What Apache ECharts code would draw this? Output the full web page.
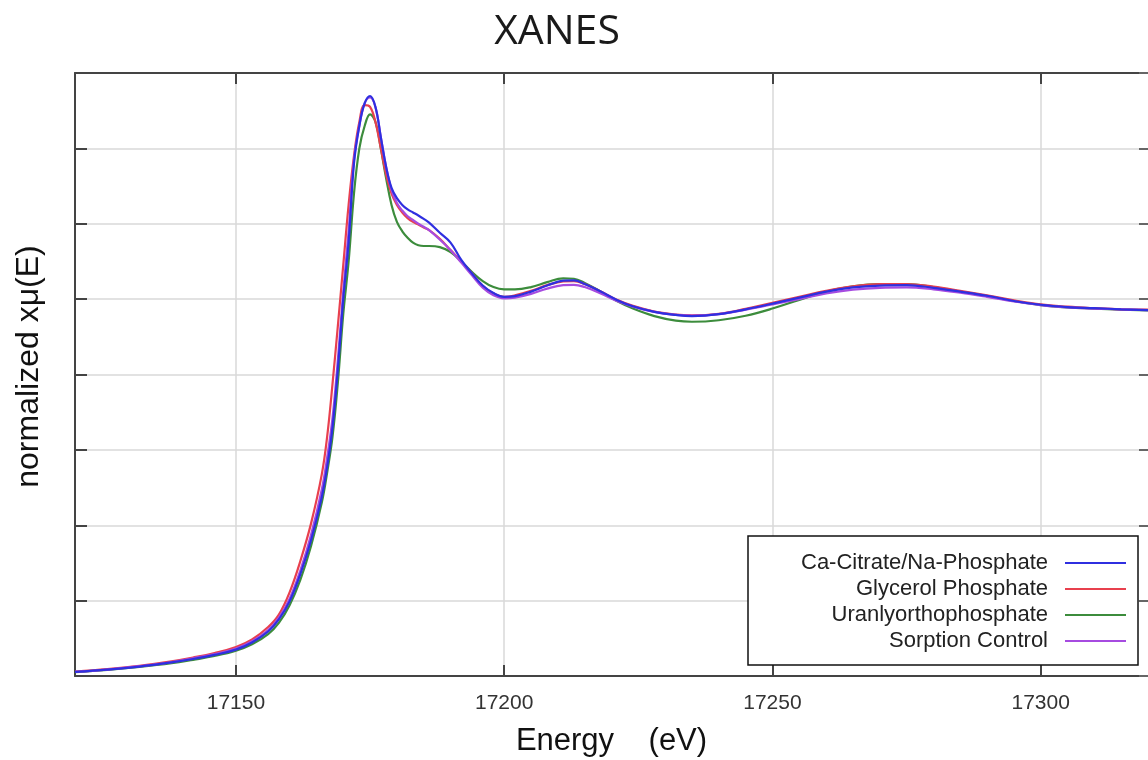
<!DOCTYPE html>
<html>
<head>
<meta charset="utf-8">
<script src="https://cdn.jsdelivr.net/npm/echarts@6/dist/echarts.min.js"></script>
<style>
  html, body { margin: 0; padding: 0; background: #ffffff; }
  #chart { width: 1148px; height: 760px; }
</style>
</head>
<body>
<div id="chart"></div>
<script>
// Photon energy grid (eV) shared by all spectra
const energy = [
  17120, 17126, 17132, 17138, 17142, 17146, 17150, 17153, 17156, 17158,
  17160, 17162, 17164, 17166, 17167, 17168, 17169, 17170, 17171, 17172,
  17173, 17174, 17175, 17176, 17177, 17178, 17179, 17180, 17181, 17182,
  17183, 17184, 17185, 17186, 17188, 17190, 17192, 17194, 17196, 17198,
  17200, 17202, 17205, 17208, 17211, 17213, 17215, 17218, 17221, 17224,
  17228, 17232, 17235, 17240, 17245, 17250, 17255, 17260, 17265, 17270,
  17275, 17280, 17285, 17290, 17295, 17300, 17305, 17310, 17315, 17320
];

// Normalized absorption for each sample
const caCitrate = [
  0.011, 0.017, 0.025, 0.036, 0.045, 0.056, 0.070, 0.089, 0.118, 0.150,
  0.198, 0.270, 0.360, 0.475, 0.555, 0.660, 0.815, 1.000, 1.150, 1.360,
  1.460, 1.520, 1.539, 1.510, 1.430, 1.350, 1.295, 1.268, 1.250, 1.238,
  1.230, 1.222, 1.213, 1.203, 1.176, 1.150, 1.104, 1.068, 1.036, 1.016,
  1.006, 1.008, 1.020, 1.036, 1.049, 1.050, 1.040, 1.020, 0.998, 0.981,
  0.966, 0.958, 0.955, 0.960, 0.973, 0.988, 1.004, 1.020, 1.031, 1.036,
  1.037, 1.030, 1.020, 1.009, 0.995, 0.985, 0.979, 0.976, 0.973, 0.971
];
const glycerol = [
  0.012, 0.018, 0.027, 0.039, 0.049, 0.061, 0.077, 0.097, 0.130, 0.163,
  0.222, 0.305, 0.405, 0.535, 0.635, 0.775, 0.930, 1.090, 1.250, 1.380,
  1.470, 1.515, 1.510, 1.470, 1.400, 1.330, 1.280, 1.250, 1.230, 1.215,
  1.205, 1.198, 1.190, 1.183, 1.160, 1.130, 1.100, 1.068, 1.035, 1.015,
  1.006, 1.010, 1.022, 1.037, 1.047, 1.048, 1.040, 1.020, 0.998, 0.982,
  0.967, 0.959, 0.957, 0.961, 0.974, 0.990, 1.006, 1.022, 1.034, 1.040,
  1.040, 1.033, 1.022, 1.010, 0.997, 0.986, 0.980, 0.976, 0.973, 0.972
];
const uranylPhosphate = [
  0.010, 0.016, 0.024, 0.034, 0.043, 0.053, 0.067, 0.084, 0.111, 0.141,
  0.188, 0.255, 0.345, 0.460, 0.540, 0.635, 0.780, 0.960, 1.100, 1.280,
  1.400, 1.460, 1.490, 1.470, 1.400, 1.320, 1.250, 1.205, 1.180, 1.163,
  1.150, 1.143, 1.141, 1.141, 1.138, 1.125, 1.100, 1.072, 1.048, 1.032,
  1.026, 1.026, 1.032, 1.045, 1.055, 1.054, 1.043, 1.020, 0.995, 0.975,
  0.955, 0.943, 0.940, 0.944, 0.956, 0.975, 0.998, 1.020, 1.034, 1.040,
  1.040, 1.032, 1.020, 1.008, 0.995, 0.984, 0.978, 0.975, 0.972, 0.970
];
const sorptionControl = [
  0.011, 0.017, 0.026, 0.037, 0.047, 0.058, 0.073, 0.092, 0.122, 0.155,
  0.205, 0.280, 0.375, 0.495, 0.580, 0.685, 0.840, 1.020, 1.180, 1.370,
  1.460, 1.520, 1.535, 1.510, 1.430, 1.350, 1.290, 1.255, 1.235, 1.220,
  1.210, 1.200, 1.192, 1.183, 1.158, 1.130, 1.097, 1.063, 1.030, 1.010,
  1.002, 1.004, 1.014, 1.028, 1.037, 1.038, 1.032, 1.015, 0.995, 0.980,
  0.966, 0.958, 0.956, 0.960, 0.972, 0.986, 1.000, 1.015, 1.025, 1.030,
  1.031, 1.026, 1.017, 1.006, 0.994, 0.984, 0.978, 0.975, 0.973, 0.971
];

// Labelled energy ticks
const energyTicks = [17150, 17200, 17250, 17300];

const seriesDefs = [
  { name: 'Ca-Citrate/Na-Phosphate', values: caCitrate, color: '#2f2fe0', z: 5 },
  { name: 'Glycerol Phosphate', values: glycerol, color: '#e8404e', z: 3 },
  { name: 'Uranlyorthophosphate', values: uranylPhosphate, color: '#3c8c3c', z: 2 },
  { name: 'Sorption Control', values: sorptionControl, color: '#a64be0', z: 4 }
];

const axisColor = '#444444';
const gridColor = '#d9d9d9';

const chart = echarts.init(document.getElementById('chart'), null, { renderer: 'canvas' });

chart.setOption({
  backgroundColor: '#ffffff',
  animation: false,
  title: {
    text: 'XANES',
    left: 552,
    top: 7,
    textAlign: 'center',
    textStyle: {
      fontFamily: 'Open Sans',
      fontWeight: 'normal',
      fontSize: 41,
      color: '#1a1a1a'
    }
  },
  grid: { left: 75, right: 0, top: 73, bottom: 84, containLabel: false, outerBoundsMode: 'none' },
  legend: {
    orient: 'vertical',
    left: 748,
    top: 536,
    align: 'right',
    padding: [16, 12, 13, 10],
    itemGap: 4,
    itemWidth: 61,
    itemHeight: 2,
    icon: 'rect',
    borderColor: '#111111',
    borderWidth: 1.5,
    backgroundColor: '#ffffff',
    selectedMode: false,
    formatter: name => '{t|' + name + '}',
    textStyle: {
      rich: {
        t: {
          width: 290,
          align: 'right',
          padding: [0, 12, 0, 0],
          fontFamily: 'Liberation Sans',
          fontSize: 22,
          lineHeight: 22,
          color: '#222222'
        }
      }
    },
    data: seriesDefs.map(s => s.name)
  },
  xAxis: [
    {
      type: 'value',
      position: 'bottom',
      min: 17120,
      max: 17320,
      name: 'Energy    (eV)',
      nameLocation: 'middle',
      nameGap: 50,
      nameTextStyle: {
        fontFamily: 'Liberation Sans',
        fontSize: 31,
        color: '#111111'
      },
      axisLine: { show: true, onZero: false, lineStyle: { color: axisColor, width: 2 } },
      axisTick: {
        show: true, inside: true, length: 11,
        customValues: energyTicks,
        lineStyle: { color: axisColor, width: 2 }
      },
      axisLabel: {
        show: true,
        customValues: energyTicks,
        margin: 17,
        fontFamily: 'Liberation Sans',
        fontSize: 21,
        color: '#333333',
        formatter: v => String(v)
      },
      splitLine: { show: true, lineStyle: { color: gridColor, width: 1.5 } }
    },
    {
      type: 'value',
      position: 'top',
      min: 17120,
      max: 17320,
      axisLine: { show: true, onZero: false, lineStyle: { color: axisColor, width: 2 } },
      axisTick: {
        show: true, inside: true, length: 11,
        customValues: energyTicks,
        lineStyle: { color: axisColor, width: 2 }
      },
      axisLabel: { show: false },
      splitLine: { show: false }
    }
  ],
  yAxis: [
    {
      type: 'value',
      position: 'left',
      min: 0,
      max: 1.6,
      interval: 0.2,
      name: 'normalized xμ(E)',
      nameLocation: 'middle',
      nameGap: 30,
      nameRotate: 90,
      nameTextStyle: {
        fontFamily: 'Liberation Sans',
        fontSize: 32,
        color: '#111111',
        padding: [0, 0, 0, 16]
      },
      axisLine: { show: true, onZero: false, lineStyle: { color: axisColor, width: 2 } },
      axisTick: { show: true, inside: true, length: 12, lineStyle: { color: axisColor, width: 2 } },
      axisLabel: { show: false },
      splitLine: { show: true, lineStyle: { color: gridColor, width: 1.5 } }
    },
    {
      type: 'value',
      position: 'right',
      min: 0,
      max: 1.6,
      interval: 0.2,
      axisLine: { show: false, onZero: false },
      axisTick: { show: true, inside: true, length: 9, lineStyle: { color: '#666666', width: 2 } },
      axisLabel: { show: false },
      splitLine: { show: false }
    }
  ],
  series: seriesDefs.map(s => ({
    name: s.name,
    type: 'line',
    xAxisIndex: 0,
    yAxisIndex: 0,
    z: s.z,
    smooth: 0.4,
    showSymbol: false,
    symbol: 'none',
    color: s.color,
    lineStyle: { color: s.color, width: 2.2 },
    data: energy.map((e, i) => [e, s.values[i]])
  }))
});
</script>
</body>
</html>
